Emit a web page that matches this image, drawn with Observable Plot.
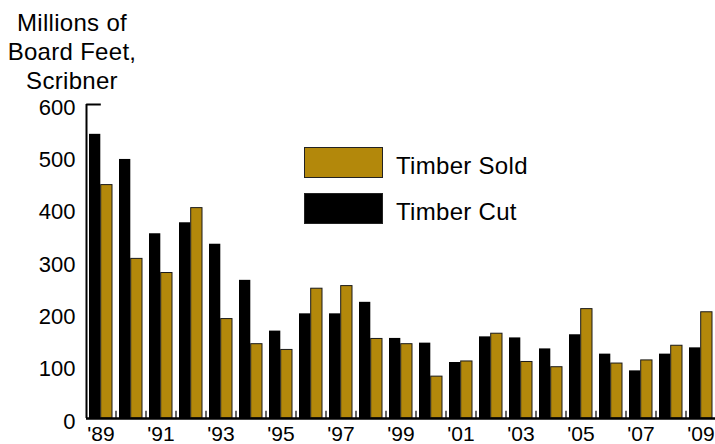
<!DOCTYPE html>
<html>
<head>
<meta charset="utf-8">
<script src="https://cdn.jsdelivr.net/npm/d3@7"></script>
<script src="https://cdn.jsdelivr.net/npm/@observablehq/plot@0.6"></script>
<style>
  html, body { margin: 0; padding: 0; background: #fff; }
  #wrap { position: relative; width: 715px; height: 444px; font-family: "Liberation Sans", Arial, sans-serif; color: #000; overflow: hidden; }
  #title { position: absolute; left: 2px; top: 8px; width: 140px; text-align: center; font-size: 24px; line-height: 29px; letter-spacing: 0.3px; }
  .leg { position: absolute; left: 304px; width: 77px; height: 29px; border: 1px solid #222; }
  .legtxt { position: absolute; left: 396px; font-size: 24px; line-height: 28px; letter-spacing: 0.3px; }
  svg { position: absolute; left: 0; top: 0; }
</style>
</head>
<body>
<div id="wrap">
</div>
<script>
const years = [1989,1990,1991,1992,1993,1994,1995,1996,1997,1998,1999,2000,2001,2002,2003,2004,2005,2006,2007,2008,2009];
const timberCut  = [543,495,353,374,333,264,167,200,200,222,153,144,107,156,154,133,160,123,91,123,135];
const timberSold = [446,305,278,402,190,142,131,248,253,152,142,80,109,162,108,98,209,105,111,139,203];
const yTicks = [0,100,200,300,400,500,600];
const labelYears = years.filter((d, i) => i % 2 === 0);
const seriesNames = ["Timber Sold", "Timber Cut"];
const titleLines = ["Millions of", "Board Feet,", "Scribner"];

const gold = "#b3880b";
const cutData = years.map((y, i) => ({year: y, value: timberCut[i]}));
const soldData = years.map((y, i) => ({year: y, value: timberSold[i]}));

const half = 11.7;

const chart = Plot.plot({
  width: 715,
  height: 444,
  marginLeft: 86,
  marginRight: 0,
  marginTop: 104,
  marginBottom: 26,
  style: {fontFamily: "'Liberation Sans', Arial, sans-serif", color: "#000", background: "transparent", overflow: "visible"},
  x: {type: "band", domain: years, paddingInner: 0.22, paddingOuter: 0.093, axis: null},
  y: {domain: [0, 600], axis: null},
  marks: [
    Plot.barY(cutData, {x: "year", y: "value", fill: "#000", insetRight: half}),
    Plot.barY(soldData, {x: "year", y: "value", fill: gold, stroke: "#1a1a1a", strokeWidth: 1, insetLeft: half}),
    Plot.ruleX(years, {x: d => d, y1: 0, y2: 14, dx: 15, stroke: "#666", strokeWidth: 2}),
    Plot.ruleX([years[0]], {x: d => d, y1: 0, y2: 600, dx: -14.5, stroke: "#000", strokeWidth: 2}),
    Plot.tickY([600], {x: () => years[0], y: d => d, dx: -2.8, insetRight: 8.4, stroke: "#000", strokeWidth: 2}),
    Plot.ruleY([0], {stroke: "#000", strokeWidth: 2.5}),
    Plot.axisY({ticks: yTicks, tickSize: 0, tickPadding: 11, fontSize: 22, dy: 3, label: null}),
    Plot.axisX({ticks: labelYears, tickFormat: d => "'" + String(d).slice(2), tickSize: 0, tickPadding: 8, fontSize: 21, label: null})
  ]
});

const wrap = document.getElementById("wrap");
wrap.appendChild(chart);

const title = document.createElement("div");
title.id = "title";
title.innerHTML = titleLines.join("<br>");
wrap.appendChild(title);

const legColors = [gold, "#000"];
const legTops = [147, 193];
seriesNames.forEach((name, i) => {
  const box = document.createElement("div");
  box.className = "leg";
  box.style.top = legTops[i] + "px";
  box.style.background = legColors[i];
  wrap.appendChild(box);
  const t = document.createElement("div");
  t.className = "legtxt";
  t.style.top = (legTops[i] + 5) + "px";
  t.textContent = name;
  wrap.appendChild(t);
});
</script>
</body>
</html>
